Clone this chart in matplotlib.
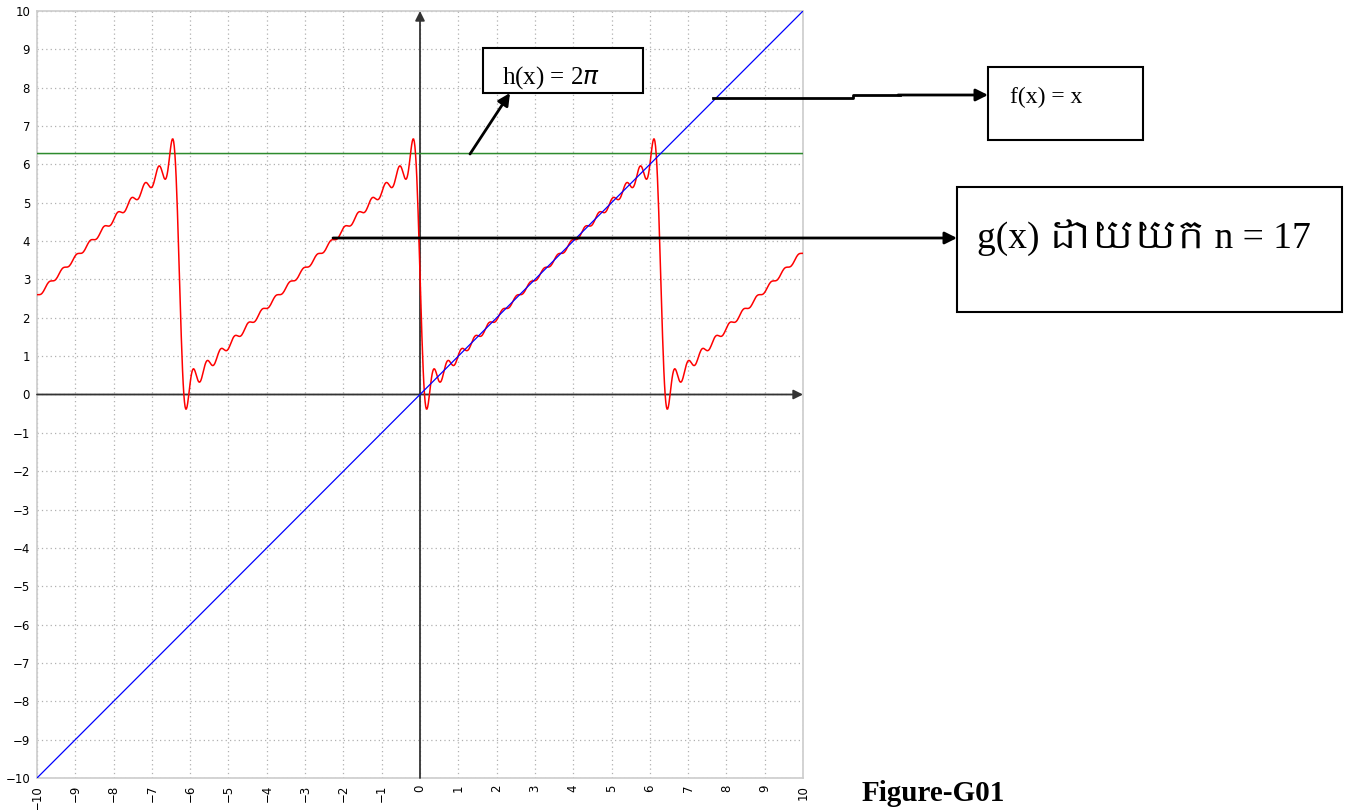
import numpy as np
import matplotlib
matplotlib.use('Agg')
import matplotlib.pyplot as plt
import matplotlib.patches as patches
from matplotlib.lines import Line2D
from matplotlib import font_manager

# 函数参数
X_MIN, X_MAX = -10, 10
Y_MIN, Y_MAX = -10, 10
N_TERMS = 17                 # g(x) 取 n = 17
H_VALUE = 2 * np.pi          # h(x) = 2π
TICKS = list(range(-10, 11))

x = np.linspace(X_MIN, X_MAX, 1201)
f_vals = x
h_vals = np.full_like(x, H_VALUE)
k = np.arange(1, N_TERMS + 1)
g_vals = np.pi - 2 * (np.sin(np.outer(x, k)) / k).sum(axis=1)

W, H = 1349, 810

# 高棉文字体（如果有的话）
avail = {f.name for f in font_manager.fontManager.ttflist}
khmer = [n for n in sorted(avail) if 'Khmer' in n]
serif = ['Liberation Serif'] + khmer + ['DejaVu Serif']

fig = plt.figure(figsize=(W / 100, H / 100), dpi=100)
fig.patch.set_facecolor('white')
ax = fig.add_axes([37 / W, 1 - 778 / H, (803 - 37) / W, (778 - 11) / H])
ax.set_xlim(X_MIN, X_MAX)
ax.set_ylim(Y_MIN, Y_MAX)
ax.set_xticks(TICKS)
ax.set_yticks(TICKS)
ax.set_xticklabels([f'\u2212{-t}' if t < 0 else str(t) for t in TICKS], rotation=90)
ax.set_yticklabels([f'\u2212{-t}' if t < 0 else str(t) for t in TICKS])
ax.tick_params(length=0, labelsize=8.5, pad=5, colors='black')
ax.grid(True, linestyle=(0, (1, 2.5)), color='#b0b0b0', linewidth=0.9)
for s in ax.spines.values():
    s.set_color('#cccccc')
    s.set_linewidth(1.2)

# 坐标轴（带箭头）
ax.annotate('', xy=(0, Y_MAX), xytext=(0, Y_MIN),
            arrowprops=dict(arrowstyle='-|>', color='#333333', lw=1.3,
                            mutation_scale=14, shrinkA=0, shrinkB=0), zorder=3)
ax.annotate('', xy=(X_MAX, 0), xytext=(X_MIN, 0),
            arrowprops=dict(arrowstyle='-|>', color='#333333', lw=1.3,
                            mutation_scale=14, shrinkA=0, shrinkB=0), zorder=3)

ax.plot(x, h_vals, color='#2e8b2e', lw=1.1, zorder=4)
ax.plot(x, f_vals, color='#0000ff', lw=0.9, zorder=5)
ax.plot(x, g_vals, color='#ff0000', lw=1.1, zorder=4)


def fx(px):
    return px / W


def fy(py):
    return 1 - py / H


def box(x0, y0, x1, y1):
    r = patches.Rectangle((fx(x0), fy(y1)), fx(x1) - fx(x0), fy(y0) - fy(y1),
                          transform=fig.transFigure, facecolor='white',
                          edgecolor='black', linewidth=1.5, zorder=10)
    fig.add_artist(r)


def arrow(x0, y0, x1, y1, ms=18):
    fig.add_artist(patches.FancyArrowPatch(
        (fx(x0), fy(y0)), (fx(x1), fy(y1)), transform=fig.transFigure,
        arrowstyle='-|>', mutation_scale=ms, color='black', lw=2,
        shrinkA=0, shrinkB=0, zorder=11))


# h(x) = 2π
box(483, 48, 643, 93)
fig.text(fx(502), fy(84), r'h(x) = 2$\pi$', fontsize=18, family=serif,
         va='baseline', ha='left', zorder=12)
arrow(470, 154, 510, 93)

# f(x) = x
box(988, 67, 1143, 140)
fig.text(fx(1010), fy(97), 'f(x) = x', fontsize=17, family=serif,
         va='center', ha='left', zorder=12)
fig.add_artist(Line2D([fx(713), fx(853), fx(853), fx(900)],
                      [fy(98), fy(98), fy(95), fy(95)],
                      transform=fig.transFigure, color='black', lw=2, zorder=11))
arrow(898, 95, 988, 95)

# g(x) n = 17
box(957, 187, 1342, 312)
fig.text(fx(977), fy(238), 'g(x) ដោយយក n = 17', fontsize=27, family=serif,
         va='center', ha='left', zorder=12)
arrow(333, 238, 957, 238)

fig.text(fx(862), fy(807), 'Figure-G01', fontsize=21, fontweight='bold',
         family=serif, va='bottom', ha='left')

fig.savefig('out.png', dpi=100)
